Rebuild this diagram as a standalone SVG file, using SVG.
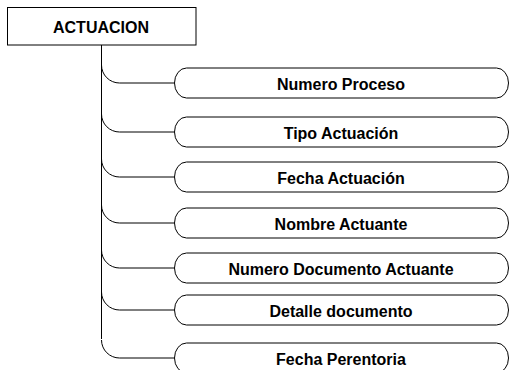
<svg xmlns="http://www.w3.org/2000/svg" width="510" height="370" viewBox="0 0 510 370">
<style>
.box{fill:#fff;stroke:#000;stroke-width:1}
.pill{fill:#fff;stroke:#000;stroke-width:1}
.lbl{font-family:"Liberation Sans",Arial,sans-serif;font-weight:bold;font-size:16px;fill:#000;text-anchor:middle}
.conn{fill:none;stroke:#000;stroke-width:1}
</style>
<rect width="510" height="370" fill="#fff"/>
<g id="connectors">
<path class="conn" d="M101.5,45 V339"/>
<path class="conn" d="M101.5,65 A18,18 0 0 0 119.5,83 H174.5"/>
<path class="conn" d="M101.5,114 A18,18 0 0 0 119.5,132 H174.5"/>
<path class="conn" d="M101.5,159 A18,18 0 0 0 119.5,177 H174.5"/>
<path class="conn" d="M101.5,205 A18,18 0 0 0 119.5,223 H174.5"/>
<path class="conn" d="M101.5,250 A18,18 0 0 0 119.5,268 H174.5"/>
<path class="conn" d="M101.5,292 A18,18 0 0 0 119.5,310 H174.5"/>
<path class="conn" d="M101.5,340 A18,18 0 0 0 119.5,358 H174.5"/>
</g>
<g id="actuacion">
<rect class="box" x="7.5" y="7.5" width="188.5" height="37.5"/>
<text class="lbl" x="101" y="33">ACTUACION</text>
</g>
<g id="numero-proceso">
<rect class="pill" x="174.5" y="68" width="334" height="30" rx="12" ry="15"/>
<text class="lbl" x="341" y="89.5">Numero Proceso</text>
</g>
<g id="tipo-actuacion">
<rect class="pill" x="174.5" y="117" width="334" height="30" rx="12" ry="15"/>
<text class="lbl" x="341" y="138.5">Tipo Actuación</text>
</g>
<g id="fecha-actuacion">
<rect class="pill" x="174.5" y="162" width="334" height="30" rx="12" ry="15"/>
<text class="lbl" x="341" y="183.5">Fecha Actuación</text>
</g>
<g id="nombre-actuante">
<rect class="pill" x="174.5" y="208" width="334" height="30" rx="12" ry="15"/>
<text class="lbl" x="341" y="229.5">Nombre Actuante</text>
</g>
<g id="numero-documento-actuante">
<rect class="pill" x="174.5" y="253" width="334" height="30" rx="12" ry="15"/>
<text class="lbl" x="341" y="274.5">Numero Documento Actuante</text>
</g>
<g id="detalle-documento">
<rect class="pill" x="174.5" y="295" width="334" height="30" rx="12" ry="15"/>
<text class="lbl" x="341" y="316.5">Detalle documento</text>
</g>
<g id="fecha-perentoria">
<rect class="pill" x="174.5" y="343" width="334" height="30" rx="12" ry="15"/>
<text class="lbl" x="341" y="364.5">Fecha Perentoria</text>
</g>
</svg>
